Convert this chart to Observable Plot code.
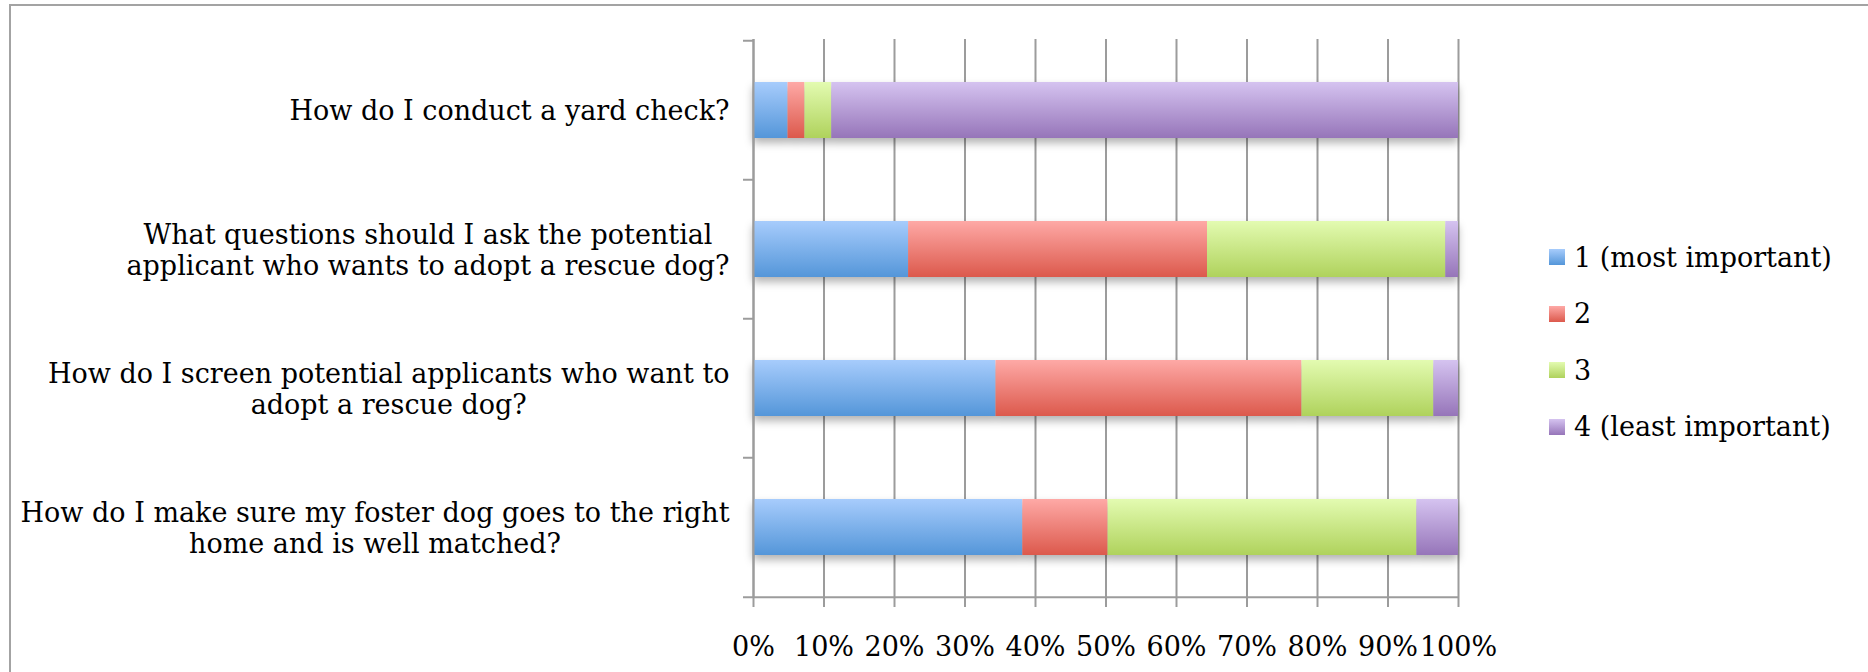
<!DOCTYPE html>
<html><head><meta charset="utf-8">
<script src="https://cdn.jsdelivr.net/npm/d3@7"></script>
<script src="https://cdn.jsdelivr.net/npm/@observablehq/plot@0.6"></script>
<style>
html,body{margin:0;padding:0;background:#fff;}
#wrap{position:relative;width:1868px;height:672px;overflow:hidden;font-family:"DejaVu Serif",serif;}
#frame{position:absolute;left:9px;top:4px;width:1900px;height:700px;border-left:2px solid #a3a3a3;border-top:2px solid #a3a3a3;}
#chart{position:absolute;left:0;top:0;}
#legend{position:absolute;left:0;top:0;}
.item{position:absolute;display:flex;align-items:center;white-space:nowrap;font-size:27px;color:#000;line-height:1;}
.sw{width:16px;height:16px;margin-right:9px;flex:none;}
#chart g[aria-label="bar"]{filter:drop-shadow(0px 5px 4px rgba(0,0,0,0.3));}
</style></head><body>
<div id="wrap"><div id="frame"></div><div id="chart"></div><div id="legend"></div></div>
<script>
// ---- data ----
const questions = [
  "How do I conduct a yard check?",
  "What questions should I ask the potential applicant who wants to adopt a rescue dog?",
  "How do I screen potential applicants who want to adopt a rescue dog?",
  "How do I make sure my foster dog goes to the right home and is well matched?"
];
const questionLines = [
  ["How do I conduct a yard check?"],
  ["What questions should I ask the potential", "applicant who wants to adopt a rescue dog?"],
  ["How do I screen potential applicants who want to", "adopt a rescue dog?"],
  ["How do I make sure my foster dog goes to the right", "home and is well matched?"]
];
const ranks = ["1 (most important)", "2", "3", "4 (least important)"];
const rank1 = [4.9, 22.0, 34.4, 38.2];
const rank2 = [2.4, 42.4, 43.4, 12.1];
const rank3 = [3.8, 33.8, 18.7, 43.8];
const rank4 = [88.9, 1.8, 3.5, 5.9];
const xTicks = [0, 10, 20, 30, 40, 50, 60, 70, 80, 90, 100];

// ---- styles ----
const gradTop = ["#a7ccfc", "#fea9a6", "#e3fbb1", "#d5c3f0"];
const gradBottom = ["#5496d9", "#dc594c", "#afd25c", "#9675b9"];
const FONT = '"DejaVu Serif", serif';
const FS = 27;

const series = [rank1, rank2, rank3, rank4];
const data = ranks.flatMap((r, k) => questions.map((q, i) => ({question: q, rank: r, value: series[k][i]})));

const W = 1868, H = 672, mL = 753, mR = 410, mT = 39, mB = 75;
const step = (H - mT - mB) / questions.length;
const last = questions[questions.length - 1];

const ctx = document.createElement("canvas").getContext("2d");
ctx.font = `${FS}px ${FONT}`;
const measure = s => ctx.measureText(s).width;

const labelMarks = questions.map((q, i) => {
  const lines = questionLines[i];
  const w = Math.max(...lines.map(measure));
  return Plot.text([q], {
    x: 0, y: d => d, text: () => lines.join("\n"),
    textAnchor: "middle", lineAnchor: "middle", lineHeight: 1.15,
    dx: -(24 + w / 2), fontSize: FS, fill: "#000"
  });
});

const axisStroke = "#9c9c9c";
const plot = Plot.plot({
  width: W, height: H,
  marginLeft: mL, marginRight: mR, marginTop: mT, marginBottom: mB,
  style: {fontFamily: FONT, fontSize: FS + "px", color: "#000", background: "transparent", overflow: "visible"},
  x: {domain: [0, 100]},
  y: {domain: questions, paddingInner: 0.6, paddingOuter: 0.3},
  color: {domain: ranks, range: ranks.map((_, i) => `url(#grad${i})`)},
  marks: [
    Plot.gridX({ticks: xTicks, stroke: axisStroke, strokeOpacity: 1, strokeWidth: 2}),
    Plot.barX(data, Plot.stackX({x: "value", y: "question", fill: "rank"})),
    Plot.ruleX([0], {stroke: axisStroke, strokeWidth: 2}),
    Plot.ruleY([last], {dy: step / 2, stroke: axisStroke, strokeWidth: 2}),
    Plot.axisY({ticks: questions, tickSize: 10, fill: "none", dy: -step / 2, stroke: axisStroke, strokeWidth: 2, label: null}),
    Plot.axisY({ticks: [last], tickSize: 10, fill: "none", dy: step / 2, stroke: axisStroke, strokeWidth: 2, label: null}),
    Plot.axisX({ticks: xTicks, tickSize: 10, tickPadding: 29, tickFormat: d => d + "%", fontSize: FS, stroke: axisStroke, strokeWidth: 2, label: null}),
    ...labelMarks
  ]
});

const defs = d3.select(plot).insert("defs", ":first-child");
ranks.forEach((r, i) => {
  const g = defs.append("linearGradient").attr("id", `grad${i}`).attr("x1", 0).attr("y1", 0).attr("x2", 0).attr("y2", 1);
  g.append("stop").attr("offset", "0%").attr("stop-color", gradTop[i]);
  g.append("stop").attr("offset", "100%").attr("stop-color", gradBottom[i]);
});
document.getElementById("chart").appendChild(plot);

// ---- legend ----
const legend = d3.select("#legend");
const legendX = 1549, legendY0 = 257, legendGap = 56.5;
ranks.forEach((r, i) => {
  const item = legend.append("div").attr("class", "item")
    .style("left", legendX + "px").style("top", (legendY0 + i * legendGap - 14) + "px").style("height", "28px");
  item.append("div").attr("class", "sw")
    .style("background", `linear-gradient(to bottom, ${gradTop[i]}, ${gradBottom[i]})`);
  item.append("span").text(r);
});
</script>
</body></html>
